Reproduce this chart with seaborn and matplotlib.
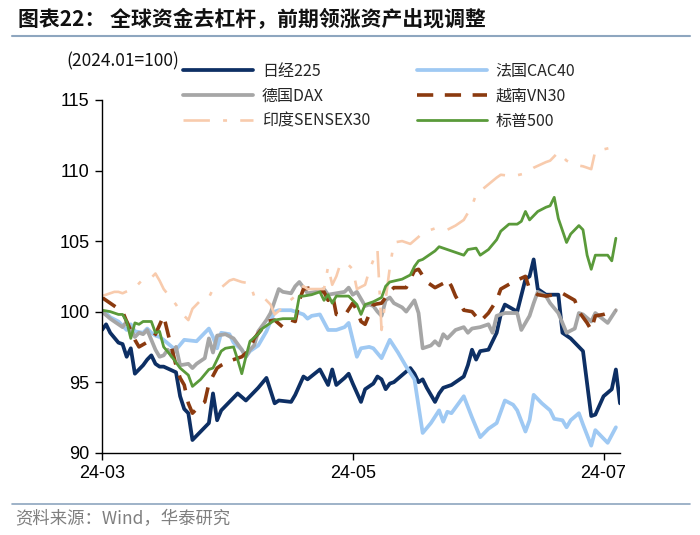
import matplotlib
matplotlib.use("Agg")
import matplotlib.pyplot as plt
import matplotlib.dates as mdates
from matplotlib.lines import Line2D
import pandas as pd
import seaborn as sns

START = "2024-03-01"

nikkei_day = [0,1,2,4,5,6,7,8,10,11,12,13,14,15,18,19,20,21,22,26,27,28,29,31,33,35,38,40,42,43,
              46,47,49,50,53,55,56,57,59,60,61,63,64,66,67,68,69,70,71,73,75,76,77,78,79,81,82,83,85,86,
              88,89,90,91,92,94,96,97,98,101,103,104,105,106,108,111,112,114,117,118,119,120,122,124,125,126]
nikkei_val = [98.7,99.1,98.5,97.8,97.7,96.8,97.4,95.6,96.2,96.6,96.9,96.3,96.1,96.1,95.7,94.0,93.1,92.8,90.9,92.1,
              94.2,92.3,93.0,93.6,94.2,93.7,94.6,95.3,93.5,93.7,93.6,94.1,95.4,95.2,95.9,94.8,95.9,94.8,95.3,95.6,
              94.9,93.6,94.5,94.9,95.4,95.2,94.5,94.9,95.0,95.5,96.0,95.6,95.0,95.2,94.6,93.6,94.2,94.6,94.8,95.0,
              95.4,96.2,97.3,96.6,97.2,97.3,98.5,99.8,100.5,100.0,102.3,102.5,103.7,101.6,101.2,101.2,98.5,98.1,97.2,94.9,
              92.6,92.7,94.0,94.5,95.9,93.5]

cac_day = [0,1,2,4,5,6,7,8,10,11,12,13,14,15,17,18,20,23,26,27,28,29,31,32,34,35,36,38,40,41,
           42,43,46,47,48,49,50,51,53,55,57,59,60,61,62,63,65,66,68,70,72,74,76,78,80,82,83,84,85,88,
           90,92,94,96,98,100,101,103,104,105,107,109,110,112,113,114,116,117,119,120,121,123,125]
cac_val = [100.0,99.9,99.6,99.3,99.0,98.7,99.1,98.6,98.5,98.8,98.5,98.3,98.2,98.0,97.5,97.3,98.0,97.9,98.8,98.2,
           97.4,98.5,98.4,97.8,97.3,96.8,97.2,97.6,98.6,99.3,100.0,100.1,100.1,100.0,99.9,99.8,99.5,99.7,99.8,98.7,
           98.7,98.9,99.2,98.0,96.8,97.4,97.5,97.4,96.7,98.0,97.1,96.1,95.2,91.4,92.1,93.0,92.2,92.9,92.8,94.0,
           92.5,91.1,91.7,92.1,93.7,93.4,93.0,91.5,92.3,94.1,93.5,93.0,92.4,92.3,91.8,92.3,92.8,92.0,90.5,91.6,
           91.3,90.7,91.8]

dax_day = [0,2,4,5,6,8,9,10,11,13,14,15,16,17,18,19,21,22,23,25,26,27,28,30,32,34,35,36,37,38,
           40,41,43,44,46,47,48,49,50,52,54,55,57,59,60,61,62,64,65,66,67,68,69,70,71,73,74,76,77,78,
           80,81,82,83,84,85,86,88,89,90,92,94,95,96,98,101,102,104,105,106,108,109,111,113,115,116,117,119,120,123,125]
dax_val = [100.0,99.5,99.1,98.9,99.3,98.2,98.5,98.4,98.7,97.3,96.8,96.9,97.3,96.8,97.5,96.2,96.3,96.0,96.3,96.7,
           98.1,97.1,98.3,98.4,98.1,97.3,96.8,97.3,97.6,98.6,99.4,99.9,101.6,101.4,101.3,101.8,102.1,101.7,101.3,101.4,
           101.6,101.2,101.3,101.4,101.7,101.2,101.4,100.4,100.5,100.4,100.0,99.7,100.8,101.0,100.6,100.3,100.0,100.8,99.9,97.4,
           97.6,97.9,97.6,98.4,98.1,98.4,98.7,98.9,98.5,98.8,98.9,99.1,98.5,99.7,99.9,99.9,98.7,99.7,100.6,101.4,
           101.1,100.6,99.9,98.5,98.8,99.9,99.8,99.3,99.9,99.2,100.1]

vn30_day = [0,2,5,6,8,9,12,13,15,16,18,19,20,21,22,24,25,26,28,29,31,34,36,37,39,40,42,44,46,47,
            48,49,51,53,54,55,56,57,59,61,62,63,64,66,68,70,71,74,76,77,79,81,83,84,85,86,88,90,92,94,
            96,97,100,103,104,106,108,112,115,116,118,119,120,122,125]
vn30_val = [101.0,100.6,100.0,99.3,98.0,97.5,98.0,98.4,99.7,98.5,96.2,95.3,94.8,93.5,92.8,93.4,93.6,94.9,96.0,96.2,
            96.5,96.8,97.3,98.1,98.8,99.3,99.4,98.9,99.4,99.3,100.8,101.6,101.7,101.4,101.4,100.8,101.3,99.8,99.7,100.6,
            100.1,99.3,99.1,100.5,100.6,101.4,101.7,101.7,102.9,103.0,102.1,101.7,102.0,102.3,101.8,101.1,100.1,100.0,99.3,99.9,
            100.8,101.6,102.1,102.5,101.6,101.2,101.1,101.3,100.8,100.0,99.2,98.7,99.7,99.8,100.1]

sensex_day = [0,2,3,4,5,8,10,12,13,14,15,18,19,21,22,24,26,27,29,31,32,34,36,37,39,41,42,44,45,47,
              49,50,53,54,55,56,57,58,60,61,62,64,65,67,68,70,71,73,75,77,78,80,81,84,86,88,90,91,96,97,
              100,103,105,108,109,111,113,115,117,119,120,122,125]
sensex_val = [101.1,101.3,101.4,101.4,101.3,101.7,102.3,102.4,102.7,102.2,101.6,100.5,100.0,99.4,100.2,100.8,101.0,101.6,101.7,102.2,
              102.3,102.1,102.0,101.1,101.1,100.5,99.8,100.3,100.6,101.1,101.8,101.6,101.6,101.6,103.2,101.9,102.5,103.4,103.3,103.0,
              101.6,101.9,102.9,104.4,98.7,103.1,104.9,105.0,104.8,105.3,105.6,105.8,105.9,105.8,106.1,106.5,107.5,108.3,109.5,109.7,
              109.6,109.8,110.2,110.6,110.7,111.3,110.7,110.4,110.3,110.1,111.4,111.5,111.7]

spx_day = [0,2,4,5,6,7,8,9,10,12,13,14,15,17,19,21,22,24,26,27,29,30,32,33,34,35,36,38,39,42,
           44,47,48,49,51,53,54,55,56,57,59,60,61,62,63,64,66,68,69,70,73,75,76,77,78,79,81,82,84,86,
           88,89,91,92,94,96,97,99,101,102,103,104,106,108,109,110,111,113,114,116,117,118,119,120,123,124,125]
spx_val = [100.1,100.0,99.8,99.8,99.3,98.1,99.2,99.1,99.3,99.3,98.5,98.6,97.5,96.8,96.0,95.5,94.7,95.2,95.9,96.0,
           97.2,97.4,97.5,96.6,95.6,96.8,97.9,98.4,98.8,99.4,99.5,99.5,101.1,101.1,101.2,101.4,100.8,101.2,100.6,101.1,
           101.1,101.1,100.8,100.5,99.8,100.5,100.7,101.0,101.8,102.1,102.3,102.6,103.2,103.6,103.7,103.9,104.3,104.6,104.4,104.2,
           104.0,104.4,104.5,104.0,104.4,105.1,105.7,106.2,106.2,106.4,107.1,106.5,107.1,107.4,107.5,108.1,106.6,104.9,105.5,106.1,
           105.8,104.0,103.0,104.0,104.0,103.6,105.2]

series_names = ["日经225", "法国CAC40", "德国DAX", "越南VN30", "印度SENSEX30", "标普500"]
x_ticks = ["2024-03-01", "2024-05-01", "2024-07-01"]
y_ticks = [90, 95, 100, 105, 110, 115]

sns.set_theme(style="white")
plt.rcParams['font.family'] = ['Liberation Sans', 'Noto Sans CJK SC', 'DejaVu Sans']

fig = plt.figure(figsize=(7, 5.35), dpi=100)
ax = fig.add_axes([102/700, 82.3/535, 518/700, 352.7/535])

styles = [
    ("#0d2f64", 2.7, "-"),
    ("#9fc9f3", 2.7, "-"),
    ("#a6a6a6", 2.7, "-"),
    ("#8b3a0f", 2.6, (0, (4.5, 3.2))),
    ("#f8cbad", 1.9, (0, (10, 5, 1.5, 5))),
    ("#5a9a3a", 2.0, "-"),
]
data = [(nikkei_day, nikkei_val), (cac_day, cac_val), (dax_day, dax_val),
        (vn30_day, vn30_val), (sensex_day, sensex_val), (spx_day, spx_val)]

start = pd.Timestamp(START)
handles = []
for name, (d, v), (c, lw, ls) in zip(series_names, data, styles):
    df = pd.DataFrame({"date": start + pd.to_timedelta(d, unit="D"), "value": v})
    sns.lineplot(data=df, x="date", y="value", ax=ax, color=c, linewidth=lw,
                 estimator=None, sort=True, label=name, legend=False)
    line = ax.lines[-1]
    line.set_linestyle(ls)
    line.set_dash_capstyle("butt")
    line.set_solid_joinstyle("round")
    handles.append(line)

ax.set_xlim(start, pd.Timestamp("2024-07-05"))
ax.set_ylim(90, 115)
ax.set_xticks([pd.Timestamp(t) for t in x_ticks])
ax.xaxis.set_major_formatter(mdates.DateFormatter("%y-%m"))
ax.set_yticks(y_ticks)
ax.set_xlabel("")
ax.set_ylabel("")
for s in ["top", "right"]:
    ax.spines[s].set_visible(False)
for s in ["left", "bottom"]:
    ax.spines[s].set_color("black")
    ax.spines[s].set_linewidth(1.0)
ax.tick_params(axis="both", which="major", direction="out", length=5, width=1,
               colors="black", labelsize=13, bottom=True, left=True, pad=4)
ax.grid(False)

order = [0, 2, 4, 1, 3, 5]
fig.legend([handles[i] for i in order], [series_names[i] for i in order],
           ncol=2, loc="upper left", bbox_to_anchor=(183/700, 1 - 63/535),
           frameon=False, prop={"family": ["Noto Sans CJK SC"], "size": 11.5},
           handlelength=4.4, handletextpad=0.55, columnspacing=2.9,
           labelspacing=0.5, borderaxespad=0, borderpad=0)

fig.text(18/700, 1 - 19/535, "图表22： 全球资金去杠杆，前期领涨资产出现调整",
         fontsize=15, fontweight="bold", family=["Noto Sans CJK SC"],
         color="#111111", ha="left", va="center")
fig.add_artist(Line2D([12/700, 690/700], [1 - 36/535, 1 - 36/535],
                      transform=fig.transFigure, color="#8ea6bf", lw=1.5))
fig.text(66/700, 1 - 61/535, "(2024.01=100)", fontsize=12.5,
         family=["Noto Sans CJK SC"], color="#111111", ha="left", va="center")
fig.add_artist(Line2D([12/700, 690/700], [1 - 503.5/535, 1 - 503.5/535],
                      transform=fig.transFigure, color="#8ea6bf", lw=1.2))
fig.text(15/700, 1 - 519/535, "资料来源：Wind，华泰研究", fontsize=12.5,
         family=["Noto Sans CJK SC"], color="#7f7f7f", ha="left", va="center")

fig.savefig("out.png", dpi=100, facecolor="white")
